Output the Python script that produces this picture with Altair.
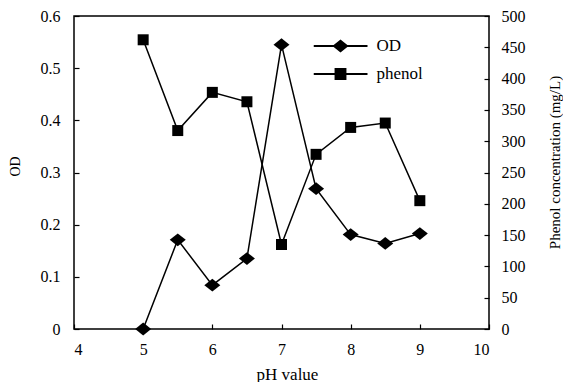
import altair as alt
import pandas as pd

ph = [5, 5.5, 6, 6.5, 7, 7.5, 8, 8.5, 9]
od = [0.0, 0.171, 0.084, 0.135, 0.545, 0.269, 0.181, 0.164, 0.183]
phenol = [462, 317, 378, 363, 135, 279, 322, 329, 205]
x_ticks = [4, 5, 6, 7, 8, 9, 10]
od_ticks = [0, 0.1, 0.2, 0.3, 0.4, 0.5, 0.6]
phenol_ticks = [0, 50, 100, 150, 200, 250, 300, 350, 400, 450, 500]
series = ["OD", "phenol"]

df = pd.DataFrame({"ph": ph, "od": od, "phenol": phenol})

FONT = "Liberation Serif"
W, H = 415, 313

xscale = alt.Scale(domain=[4, 10], nice=False, zero=False)
odscale = alt.Scale(domain=[0, 0.6], nice=False)
phscale = alt.Scale(domain=[0, 500], nice=False)

data_diamond = "M-1,0L0,-0.8L1,0L0,0.8Z"

base = alt.Chart(df)

od_layer = base.mark_line(
    color="black", strokeWidth=1.5,
    point=alt.OverlayMarkDef(shape=data_diamond, size=256, filled=True, color="black", opacity=1),
).encode(
    x=alt.X("ph:Q", scale=xscale, axis=alt.Axis(
        values=x_ticks, title="pH value", ticks=False, domain=False, grid=False,
        labelPadding=12, titleX=213, titleY=45, titleBaseline="middle", titleAlign="center",
        titleFontSize=17)),
    y=alt.Y("od:Q", scale=odscale, axis=alt.Axis(
        orient="left", values=od_ticks, format=".1~f", title="OD", ticks=False, domain=False,
        grid=False, labelPadding=14, titleAngle=270, titleX=-59, titleY=150,
        titleAlign="center", titleBaseline="middle", titleFontSize=14)),
)

ph_layer = base.mark_line(
    color="black", strokeWidth=1.5,
    point=alt.OverlayMarkDef(shape="square", size=121, filled=True, color="black", opacity=1),
).encode(
    x=alt.X("ph:Q", scale=xscale, axis=None),
    y=alt.Y("phenol:Q", scale=phscale, axis=alt.Axis(
        orient="right", values=phenol_ticks, title="Phenol concentration (mg/L)", ticks=False,
        domain=False, grid=False, labelPadding=12, titleAngle=270, titleX=65, titleY=146,
        titleAlign="center", titleBaseline="middle", titleFontSize=15)),
)

tick_ax = dict(labels=False, domain=False, ticks=True, tickSize=5, tickColor="black",
               tickWidth=1.2, grid=False, title=None)

tick_layer1 = base.mark_point(opacity=0).encode(
    x=alt.X("ph:Q", scale=xscale, axis=alt.Axis(orient="top", offset=-H, values=x_ticks, **tick_ax)),
    y=alt.Y("od:Q", scale=odscale, axis=alt.Axis(orient="right", offset=-W, values=od_ticks, **tick_ax)),
)
tick_layer2 = base.mark_point(opacity=0).encode(
    x=alt.X("ph:Q", scale=xscale, axis=None),
    y=alt.Y("phenol:Q", scale=phscale, axis=alt.Axis(orient="left", offset=-W, values=phenol_ticks, **tick_ax)),
)

leg_df = pd.DataFrame({"series": series, "ph": [5, 5], "od": [0, 0]})
# legend symbols: a line through a marker, as filled paths (unit box scaled by sqrt(size)/2)
diamond_sym = "M-1,-0.037H1V0.037H-1ZM0,-0.24L0.3,0L0,0.24L-0.3,0Z"
square_sym = "M-1,-0.037H1V0.037H-1ZM-0.22,-0.22H0.22V0.22H-0.22Z"

legend_layer = alt.Chart(leg_df).transform_filter("false").mark_point(
    filled=True, color="black", opacity=1
).encode(
    x=alt.X("ph:Q", scale=xscale, axis=None),
    y=alt.Y("od:Q", scale=odscale, axis=None),
    shape=alt.Shape("series:N", scale=alt.Scale(domain=series, range=[diamond_sym, square_sym]),
                    legend=alt.Legend(title=None, orient="none", legendX=239.5, legendY=16,
                                      padding=0, rowPadding=0, clipHeight=28, symbolSize=2916,
                                      symbolFillColor="black", symbolStrokeWidth=0,
                                      labelOffset=9, labelFont=FONT,
                                      labelFontSize=17, labelColor="black")),
)

chart = alt.layer(od_layer, ph_layer, tick_layer1, tick_layer2, legend_layer).resolve_scale(
    y="independent"
).resolve_axis(
    x="independent", y="independent"
).properties(
    width=W, height=H, autosize=alt.AutoSizeParams(type="none"),
    padding={"left": 66, "top": 8, "right": 74, "bottom": 53},
    background="white",
).configure_view(
    stroke="black", strokeWidth=1.5
).configure_axis(
    labelFont=FONT, labelFontSize=16, labelColor="black",
    titleFont=FONT, titleColor="black", titleFontWeight="normal",
)

chart.save("out.html", embed_options={"renderer": "svg", "actions": False})
